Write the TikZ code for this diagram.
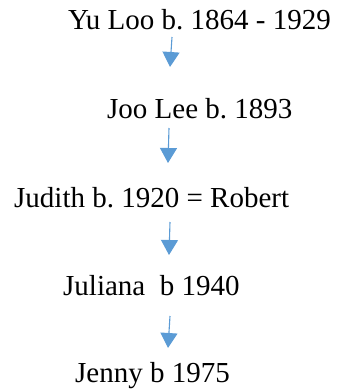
\documentclass[tikz,border=0pt]{standalone}
\usepackage{fontspec}
\setmainfont{Liberation Serif}
\usetikzlibrary{arrows.meta}
\definecolor{arrowblue}{HTML}{5B9BD5}
\frenchspacing
\begin{document}
\begin{tikzpicture}[x=1pt,y=-1pt,
  person/.style={anchor=base west,inner sep=0pt,font=\fontsize{29}{33}\selectfont},
  link/.style={draw=arrowblue,line width=1.1pt,-{Triangle[width=17pt,length=15pt]}}]
\useasboundingbox (0,0) rectangle (337,391);
\node[person] (yu) at (68,29) {Yu Loo b. 1864 - 1929};
\node[person] (joo) at (107,118) {Joo Lee b. 1893};
\node[person] (judith) at (14,207) {Judith b. 1920 = Robert};
\node[person] (juliana) at (63,295) {Juliana\ \ b 1940};
\node[person] (jenny) at (75,382) {Jenny b 1975};
\coordinate (a1s) at (172,37); \coordinate (a1e) at (170,67);
\coordinate (a2s) at (169,128); \coordinate (a2e) at (168,163);
\coordinate (a3s) at (170,222); \coordinate (a3e) at (169,255);
\coordinate (a4s) at (170,316); \coordinate (a4e) at (168,348);
\draw[link] (a1s) -- (a1e);
\draw[link] (a2s) -- (a2e);
\draw[link] (a3s) -- (a3e);
\draw[link] (a4s) -- (a4e);
\end{tikzpicture}
\end{document}
